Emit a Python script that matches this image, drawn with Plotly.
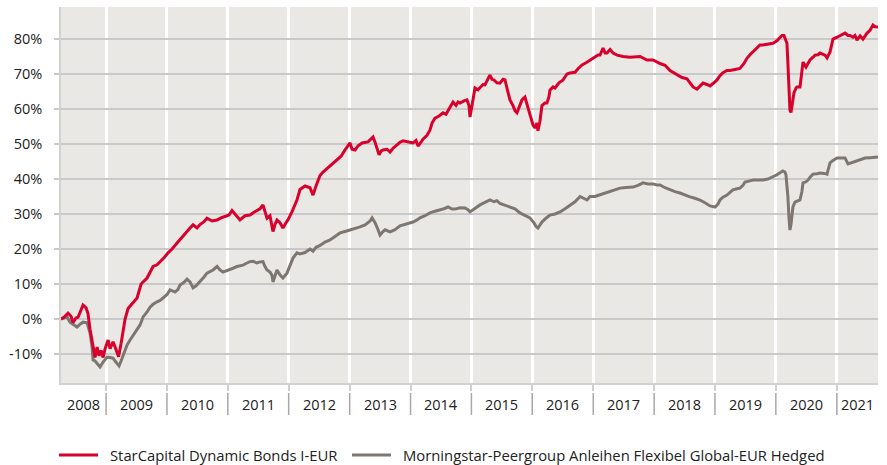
import datetime as dt
import plotly.graph_objects as go

# ---------------- data (decimal years, cumulative performance in %) ----------------
series_names = ["StarCapital Dynamic Bonds I-EUR",
                "Morningstar-Peergroup Anleihen Flexibel Global-EUR Hedged"]

red_t = [
    2008.261, 2008.310, 2008.376, 2008.425, 2008.458, 2008.507, 2008.540, 2008.589, 2008.622, 2008.672,
    2008.704, 2008.737, 2008.770, 2008.803, 2008.819, 2008.852, 2008.885, 2008.918, 2008.951, 2008.984,
    2009.033, 2009.066, 2009.115, 2009.148, 2009.181, 2009.205, 2009.246, 2009.279, 2009.312, 2009.361,
    2009.411, 2009.443, 2009.509, 2009.542, 2009.575, 2009.673, 2009.722, 2009.772, 2009.837, 2009.887, 2009.952,
    2010.018, 2010.084, 2010.166, 2010.248, 2010.330, 2010.379, 2010.429, 2010.494, 2010.543, 2010.609,
    2010.658, 2010.741, 2010.823, 2010.905,
    2011.020, 2011.069, 2011.118, 2011.167, 2011.200, 2011.282, 2011.364, 2011.430, 2011.479, 2011.529,
    2011.578, 2011.611, 2011.644, 2011.693, 2011.742, 2011.775, 2011.808, 2011.857, 2011.906, 2011.956, 2011.988,
    2012.054, 2012.136, 2012.186, 2012.268, 2012.350, 2012.399, 2012.448, 2012.514, 2012.563, 2012.629,
    2012.711, 2012.793, 2012.859, 2012.924, 2012.974,
    2013.006, 2013.039, 2013.089, 2013.138, 2013.204, 2013.302, 2013.351, 2013.384, 2013.417, 2013.450,
    2013.483, 2013.516, 2013.548, 2013.614, 2013.663, 2013.713, 2013.778, 2013.827, 2013.877, 2013.959,
    2014.041, 2014.090, 2014.123, 2014.172, 2014.205, 2014.271, 2014.320, 2014.353, 2014.402, 2014.468,
    2014.534, 2014.583, 2014.616, 2014.665, 2014.698, 2014.747, 2014.780, 2014.813, 2014.878, 2014.928,
    2014.960, 2014.977,
    2015.010, 2015.059, 2015.108, 2015.141, 2015.190, 2015.223, 2015.272, 2015.305, 2015.338, 2015.371,
    2015.420, 2015.469, 2015.519, 2015.552, 2015.584, 2015.634, 2015.683, 2015.716, 2015.749, 2015.781,
    2015.831, 2015.880, 2015.913, 2015.946, 2015.979,
    2016.011, 2016.044, 2016.077, 2016.093, 2016.126, 2016.159, 2016.208, 2016.241, 2016.274, 2016.290,
    2016.340, 2016.373, 2016.438, 2016.504, 2016.570, 2016.619, 2016.701, 2016.750, 2016.816, 2016.882,
    2016.947, 2016.997,
    2017.079, 2017.111, 2017.161, 2017.194, 2017.226, 2017.276, 2017.325, 2017.391, 2017.489, 2017.604,
    2017.686, 2017.768, 2017.883, 2017.982,
    2018.097, 2018.179, 2018.261, 2018.376, 2018.458, 2018.540, 2018.589, 2018.639, 2018.704, 2018.753,
    2018.803, 2018.868, 2018.918, 2018.983,
    2019.033, 2019.082, 2019.131, 2019.197, 2019.246, 2019.328, 2019.410, 2019.476, 2019.525, 2019.575,
    2019.624, 2019.690, 2019.739, 2019.788, 2019.854, 2019.903, 2019.952,
    2020.018, 2020.067, 2020.100, 2020.133, 2020.166, 2020.182, 2020.198, 2020.215, 2020.231, 2020.248,
    2020.264, 2020.280, 2020.297, 2020.330, 2020.346, 2020.396, 2020.412, 2020.428, 2020.445, 2020.494,
    2020.527, 2020.560, 2020.609, 2020.642, 2020.691, 2020.724, 2020.806, 2020.839, 2020.888, 2020.921, 2020.937,
    2021.003, 2021.052, 2021.134, 2021.184, 2021.216, 2021.266, 2021.298, 2021.331, 2021.381, 2021.430,
    2021.463, 2021.496, 2021.545, 2021.594, 2021.627, 2021.676,
]
red_v = [
    0, 0.5, 1.7, 0.8, -1, 0.3, 0.5, 2.5, 4, 3.2,
    1.5, -3, -6, -8.5, -11, -8, -10.5, -9, -11, -8.5,
    -6, -8.5, -6.5, -8, -9.8, -10.8, -7, -3, 0, 3,
    4, 4.5, 6, 8, 10, 11.7, 13.5, 15, 15.5, 16.3, 17.5,
    18.9, 20, 21.7, 23.5, 25, 26, 26.9, 26, 27, 27.8,
    28.8, 28, 28.3, 29,
    29.7, 31, 30, 29, 28.3, 29.5, 29.7, 30.5, 31, 31.5,
    32.6, 31, 28.8, 29.5, 25, 27, 28.3, 27.5, 26, 27.5, 28.3,
    30.6, 34, 37, 38, 37.5, 35.4, 38, 41, 42, 43,
    44, 45.4, 46.5, 48.3, 49.5,
    50.3, 48.5, 48.3, 49.5, 50.3, 50.6, 51.5, 52, 50.5, 48.9,
    46.9, 48, 48.3, 48.5, 47.7, 48.8, 49.7, 50.5, 50.9, 50.5,
    50.3, 51, 49.4, 50.5, 51.4, 52.5, 54, 56, 57.4, 58,
    58.9, 58.5, 59.7, 61, 62, 61, 62, 61.7, 62.3, 62.6,
    61, 57.7,
    61, 66, 65.5, 66, 67, 66.9, 68.5, 69.7, 68.5, 68.3,
    67.5, 67.4, 68.5, 68.3, 66, 62.6, 61, 59.5, 58.9, 60.5,
    62.6, 63.4, 61.5, 59, 57,
    55.5, 54.6, 56, 53.8, 56.5, 61, 61.7, 61.7, 63.5, 65.4,
    66.3, 66, 67.5, 68.3, 70, 70.3, 70.5, 71.5, 72.6, 73.2,
    74, 74.6,
    75.4, 75.4, 77.4, 76, 76, 77, 76, 75.4, 75, 74.8,
    75, 75, 74, 74,
    73, 72.5, 71, 69.7, 69, 68.6, 67.5, 66.3, 65.7, 66.5,
    67.4, 67, 66.6, 67.5,
    68.3, 69.5, 70.4, 71, 71, 71.3, 71.6, 73, 74.5, 75.5,
    76.4, 77.5, 78.3, 78.3, 78.5, 78.5, 78.8,
    79.5, 80.6, 81, 81, 79.5, 78.8, 73, 67.4, 59.7, 59,
    60.6, 62, 64.6, 66, 66.3, 66.3, 68.5, 71, 73.4, 72,
    73, 74, 74.8, 75.4, 75.5, 76, 75.4, 74.6, 76.3, 78.5, 80,
    80.5, 80.9, 81.7, 81, 81, 80.5, 81, 79.7, 80.9, 80,
    80.8, 81.7, 82.5, 84, 83.5, 83.4,
]

grey_t = [
    2008.261, 2008.310, 2008.360, 2008.409, 2008.458, 2008.524, 2008.573, 2008.622, 2008.688, 2008.737,
    2008.770, 2008.787, 2008.819, 2008.852, 2008.901, 2008.951, 2008.984,
    2009.016, 2009.066, 2009.115, 2009.148, 2009.181, 2009.213, 2009.246, 2009.279, 2009.312, 2009.345,
    2009.394, 2009.443, 2009.509, 2009.558, 2009.608, 2009.673, 2009.722, 2009.772, 2009.837, 2009.887, 2009.936,
    2010.002, 2010.051, 2010.133, 2010.182, 2010.215, 2010.281, 2010.330, 2010.379, 2010.429, 2010.478,
    2010.543, 2010.609, 2010.658, 2010.708, 2010.757, 2010.823, 2010.872, 2010.921, 2010.987,
    2011.036, 2011.085, 2011.151, 2011.250, 2011.315, 2011.364, 2011.414, 2011.479, 2011.529, 2011.578,
    2011.611, 2011.644, 2011.693, 2011.726, 2011.742, 2011.775, 2011.808, 2011.857, 2011.906, 2011.972,
    2012.021, 2012.071, 2012.136, 2012.186, 2012.268, 2012.350, 2012.399, 2012.448, 2012.514, 2012.596,
    2012.678, 2012.760, 2012.842, 2012.924,
    2013.006, 2013.089, 2013.171, 2013.253, 2013.335, 2013.368, 2013.417, 2013.466, 2013.499, 2013.548,
    2013.581, 2013.663, 2013.745, 2013.827, 2013.910, 2013.992,
    2014.041, 2014.107, 2014.156, 2014.238, 2014.320, 2014.402, 2014.484, 2014.550, 2014.616, 2014.681,
    2014.731, 2014.813, 2014.895, 2014.944, 2014.977,
    2015.043, 2015.092, 2015.141, 2015.223, 2015.305, 2015.371, 2015.420, 2015.469, 2015.552, 2015.634,
    2015.716, 2015.798, 2015.880, 2015.962,
    2016.028, 2016.061, 2016.093, 2016.126, 2016.159, 2016.225, 2016.290, 2016.373, 2016.455, 2016.537,
    2016.619, 2016.701, 2016.783, 2016.832, 2016.898, 2016.947,
    2017.029, 2017.111, 2017.161, 2017.226, 2017.325, 2017.440, 2017.538, 2017.653, 2017.735, 2017.818,
    2017.900, 2017.982,
    2018.047, 2018.097, 2018.179, 2018.261, 2018.343, 2018.425, 2018.507, 2018.589, 2018.671, 2018.753,
    2018.836, 2018.918,
    2019.000, 2019.049, 2019.082, 2019.131, 2019.197, 2019.246, 2019.295, 2019.361, 2019.410, 2019.460,
    2019.492, 2019.558, 2019.624, 2019.706, 2019.788, 2019.870, 2019.952,
    2020.018, 2020.067, 2020.116, 2020.149, 2020.166, 2020.182, 2020.198, 2020.215, 2020.231, 2020.248,
    2020.264, 2020.280, 2020.313, 2020.363, 2020.396, 2020.428, 2020.445, 2020.494, 2020.527, 2020.560,
    2020.609, 2020.675, 2020.724, 2020.790, 2020.839, 2020.855, 2020.888, 2020.937,
    2021.003, 2021.069, 2021.134, 2021.184, 2021.233, 2021.298, 2021.381, 2021.463, 2021.545, 2021.627, 2021.676,
]
grey_v = [
    0, 0.3, 0.6, -0.9, -1.5, -2.3, -1.5, -0.9, -1.1, -4,
    -8, -11.7, -12, -12.6, -13.7, -12.3, -11.5,
    -10.9, -11, -11.2, -12, -12.6, -13.4, -12, -10.3, -8.5, -7.4,
    -6, -4.6, -3, -1.7, 0.6, 2, 3.4, 4.2, 4.9, 5.3, 6,
    7, 8.3, 7.7, 8.5, 9.7, 10.5, 11.4, 10.6, 8.9, 9.5,
    10.6, 12, 13.1, 13.5, 14, 15, 14, 13.4, 13.8,
    14, 14.5, 15, 15.4, 16, 16.4, 16.5, 16, 16.3, 16.4,
    15, 14, 13.4, 12.5, 10.6, 12.5, 14, 12.6, 11.7, 13.1,
    15, 17.4, 18.9, 18.6, 19, 20, 19.4, 20.5, 21, 22,
    22.6, 23.5, 24.6, 25,
    25.4, 26, 26.3, 26.9, 28, 28.9, 27.5, 25.5, 24, 25,
    25.5, 24.9, 25.5, 26.6, 27, 27.5,
    27.7, 28.3, 28.9, 29.5, 30.3, 30.8, 31.1, 31.5, 32, 31.4,
    31.4, 31.8, 31.7, 31.2, 30.6,
    31.5, 32, 32.6, 33.3, 34, 33.5, 33.8, 33, 32.5, 32,
    31.5, 30.3, 29.5, 28.9,
    27.5, 26.5, 26, 27, 27.7, 28.8, 29.7, 30, 30.6, 31.5,
    32.6, 33.5, 35, 34.5, 34, 35,
    35, 35.5, 35.8, 36.3, 36.8, 37.4, 37.6, 37.7, 38.2, 38.9,
    38.6, 38.6,
    38.3, 38.3, 37.5, 36.9, 36.4, 36, 35.4, 34.9, 34.5, 34,
    33.2, 32.3,
    32, 32.8, 34, 34.8, 35.4, 36.2, 36.9, 37.2, 37.4, 38.2,
    39.1, 39.4, 39.7, 39.7, 39.7, 40, 40.6,
    41.2, 41.8, 42.3, 42, 41.2, 38, 34.9, 29, 25.4, 27,
    30.3, 32, 33.4, 33.8, 34, 36.5, 38.9, 39.2, 39.7, 40.5,
    41.4, 41.5, 41.7, 41.6, 41.4, 42.5, 44.6, 45.3,
    46, 46, 46, 44.3, 44.6, 44.9, 45.5, 46, 46.1, 46.3, 46.3,
]

years = list(range(2008, 2022))
y_ticks = [-10, 0, 10, 20, 30, 40, 50, 60, 70, 80]

# ---------------- helpers ----------------
def to_date(t):
    y = int(t)
    a = dt.datetime(y, 1, 1)
    b = dt.datetime(y + 1, 1, 1)
    return a + (b - a) * (t - y)

red_x = [to_date(t) for t in red_t]
grey_x = [to_date(t) for t in grey_t]
x_start = to_date(min(red_t[0], grey_t[0]))
x_end = to_date(max(red_t[-1], grey_t[-1]))

RED = "#D9002C"
GREY = "#7E7771"
FONT = "Open Sans"
TXT = "#222222"

W, H = 887, 465
ML, MR, MT, MB = 61, 9, 7, 82
PW, PH = W - ML - MR, H - MT - MB

def py(pix):  # pixel y -> paper coordinate
    return (H - MB - pix) / PH

def px(pix):  # pixel x -> paper coordinate
    return (pix - ML) / PW

fig = go.Figure()
fig.add_trace(go.Scatter(x=grey_x, y=grey_v, mode="lines", name=series_names[1],
                         line=dict(color=GREY, width=3)))
fig.add_trace(go.Scatter(x=red_x, y=red_v, mode="lines", name=series_names[0],
                         line=dict(color=RED, width=3)))

boundaries = [dt.datetime(y, 1, 1) for y in years[1:]]

shapes = []
annotations = []
# separators between year labels
for b in boundaries:
    shapes.append(dict(type="line", xref="x", yref="paper", x0=b, x1=b,
                       y0=py(393), y1=py(415), line=dict(color="#a8a8a8", width=1.5)))
# year labels centred in the visible part of each year
for y in years:
    a = max(dt.datetime(y, 1, 1), x_start)
    b = min(dt.datetime(y + 1, 1, 1), x_end)
    mid = a + (b - a) / 2
    annotations.append(dict(x=mid, y=py(404), xref="x", yref="paper", text=str(y),
                            showarrow=False, xanchor="center", yanchor="middle",
                            font=dict(family=FONT, size=14.5, color=TXT)))

# legend (manual)
leg_y = py(455)
legend_items = [(series_names[0], RED, 59, 98, 108), (series_names[1], GREY, 352, 391, 401)]
for name, col, x0, x1, xt in legend_items:
    shapes.append(dict(type="line", xref="paper", yref="paper", x0=px(x0), x1=px(x1),
                       y0=leg_y, y1=leg_y, line=dict(color=col, width=3)))
    annotations.append(dict(x=px(xt), y=leg_y, xref="paper", yref="paper", text=name,
                            showarrow=False, xanchor="left", yanchor="middle",
                            font=dict(family=FONT, size=14.8, color=TXT)))

fig.update_layout(
    width=W, height=H,
    margin=dict(l=ML, r=MR, t=MT, b=MB),
    paper_bgcolor="white",
    plot_bgcolor="#EAE8E5",
    showlegend=False,
    shapes=shapes,
    annotations=annotations,
    font=dict(family=FONT, size=14, color=TXT),
)
fig.update_xaxes(
    type="date", range=[x_start, x_end],
    tickvals=boundaries, showticklabels=False,
    showgrid=True, gridcolor="white", gridwidth=2.5,
    ticks="outside", ticklen=6, tickcolor="#d0d0d0", tickwidth=2,
    showline=True, linecolor="#d2d2d2", linewidth=1.5,
    zeroline=False, fixedrange=True,
)
fig.update_yaxes(
    range=[-(H - MB - 319) / 3.5, (319 - MT) / 3.5],
    tickvals=y_ticks, ticktext=[f"{v}%" for v in y_ticks],
    tickfont=dict(family=FONT, size=14.5, color=TXT),
    showgrid=True, gridcolor="#c9c9c9", gridwidth=1.5,
    ticks="outside", ticklen=5, tickcolor="#c9c9c9", tickwidth=1.5,
    ticklabelstandoff=9,
    showline=True, linecolor="#d2d2d2", linewidth=1.5,
    zeroline=False, fixedrange=True,
)

fig.write_html(
    "out.html",
    config={"displayModeBar": False},
    post_script="document.body.style.margin='0';document.body.style.overflow='hidden';",
)
